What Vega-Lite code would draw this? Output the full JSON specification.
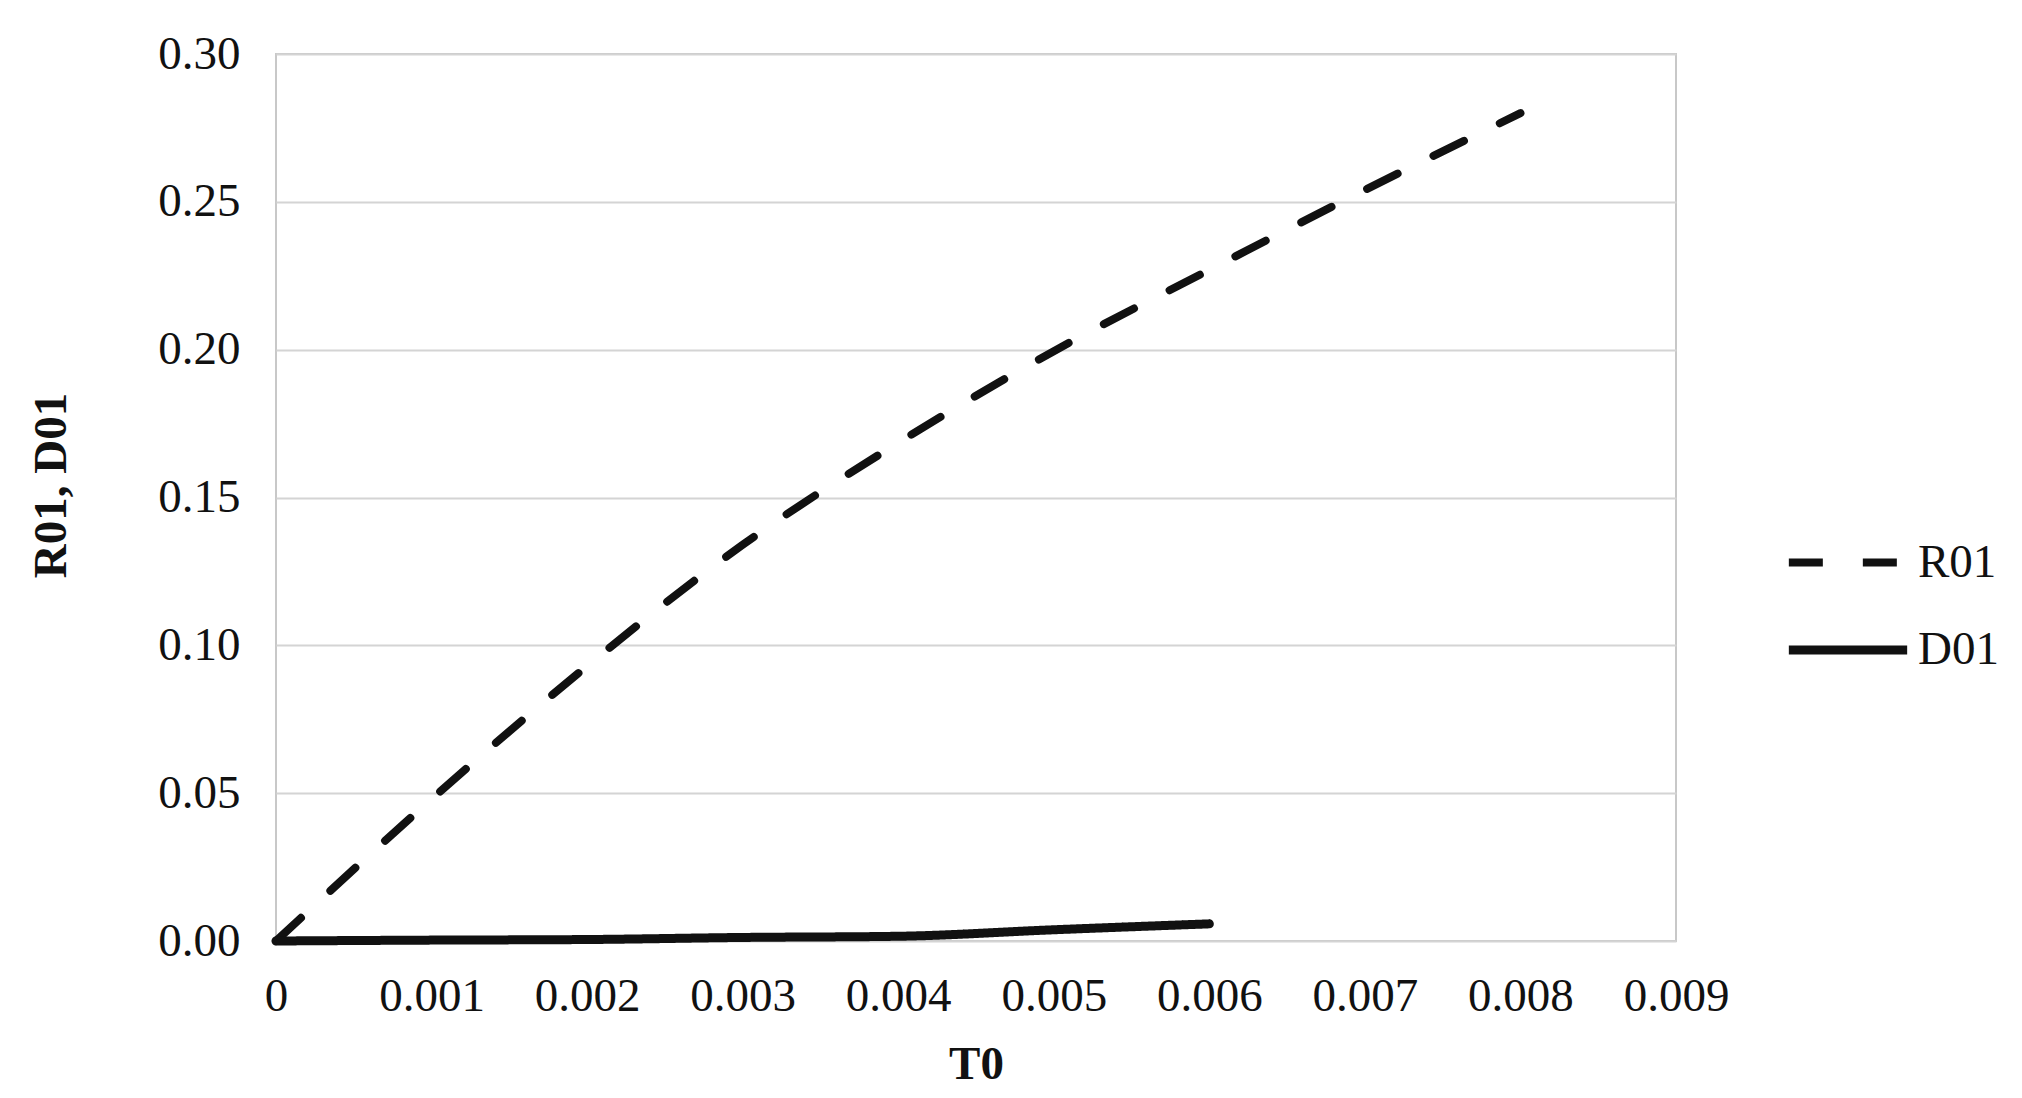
{
  "$schema": "https://vega.github.io/schema/vega-lite/v6.json",
  "width": 1400,
  "height": 887,
  "autosize": {"type": "none"},
  "padding": {"left": 276, "top": 54, "right": 346, "bottom": 157},
  "background": "white",
  "config": {
    "font": "Liberation Serif",
    "view": {"stroke": "#c8c8c8", "strokeWidth": 2},
    "axis": {
      "labelFont": "Liberation Serif",
      "titleFont": "Liberation Serif",
      "labelFontSize": 47,
      "titleFontSize": 47,
      "labelColor": "#111",
      "titleColor": "#111",
      "titleFontWeight": "bold",
      "domain": false,
      "ticks": false,
      "gridColor": "#d4d4d4",
      "gridWidth": 2
    },
    "legend": {
      "labelFont": "Liberation Serif",
      "labelFontSize": 47,
      "labelColor": "#111"
    }
  },
  "data": {
    "values": [
      {"T0": 0, "value": 0, "series": "R01"},
      {"T0": 0.001, "value": 0.048, "series": "R01"},
      {"T0": 0.002, "value": 0.093, "series": "R01"},
      {"T0": 0.003, "value": 0.134, "series": "R01"},
      {"T0": 0.004, "value": 0.1685, "series": "R01"},
      {"T0": 0.005, "value": 0.1995, "series": "R01"},
      {"T0": 0.006, "value": 0.227, "series": "R01"},
      {"T0": 0.007, "value": 0.254, "series": "R01"},
      {"T0": 0.008, "value": 0.280, "series": "R01"},
      {"T0": 0, "value": 0, "series": "D01"},
      {"T0": 0.001, "value": 0.0003, "series": "D01"},
      {"T0": 0.002, "value": 0.0005, "series": "D01"},
      {"T0": 0.003, "value": 0.0012, "series": "D01"},
      {"T0": 0.004, "value": 0.0016, "series": "D01"},
      {"T0": 0.005, "value": 0.0038, "series": "D01"},
      {"T0": 0.006, "value": 0.0058, "series": "D01"}
    ]
  },
  "mark": {"type": "line", "color": "#111", "strokeCap": "round", "interpolate": "monotone"},
  "encoding": {
    "x": {
      "field": "T0",
      "type": "quantitative",
      "scale": {"domain": [0, 0.009], "nice": false},
      "axis": {
        "title": "T0",
        "values": [0, 0.001, 0.002, 0.003, 0.004, 0.005, 0.006, 0.007, 0.008, 0.009],
        "labelExpr": "datum.value == 0 ? '0' : format(datum.value, '.3f')",
        "labelOverlap": false,
        "labelFlush": false,
        "labelBound": false,
        "grid": false,
        "labelPadding": 32,
        "titlePadding": 22
      }
    },
    "y": {
      "field": "value",
      "type": "quantitative",
      "scale": {"domain": [0, 0.3], "nice": false},
      "axis": {
        "title": "R01, D01",
        "values": [0, 0.05, 0.1, 0.15, 0.2, 0.25, 0.3],
        "format": ".2f",
        "labelOverlap": false,
        "labelPadding": 36,
        "titlePadding": 82,
        "titleY": 431
      }
    },
    "strokeDash": {
      "field": "series",
      "type": "nominal",
      "scale": {"domain": ["R01", "D01"], "range": [[34, 40], [1, 0]]},
      "legend": {
        "title": null,
        "orient": "none",
        "legendX": 1508,
        "legendY": 445,
        "symbolType": "stroke",
        "symbolSize": 14000,
        "symbolStrokeWidth": 8,
        "symbolStrokeColor": "#111",
        "labelOffset": 6,
        "rowPadding": -9
      }
    },
    "strokeWidth": {
      "field": "series",
      "type": "nominal",
      "scale": {"domain": ["R01", "D01"], "range": [8, 9]},
      "legend": null
    }
  }
}
